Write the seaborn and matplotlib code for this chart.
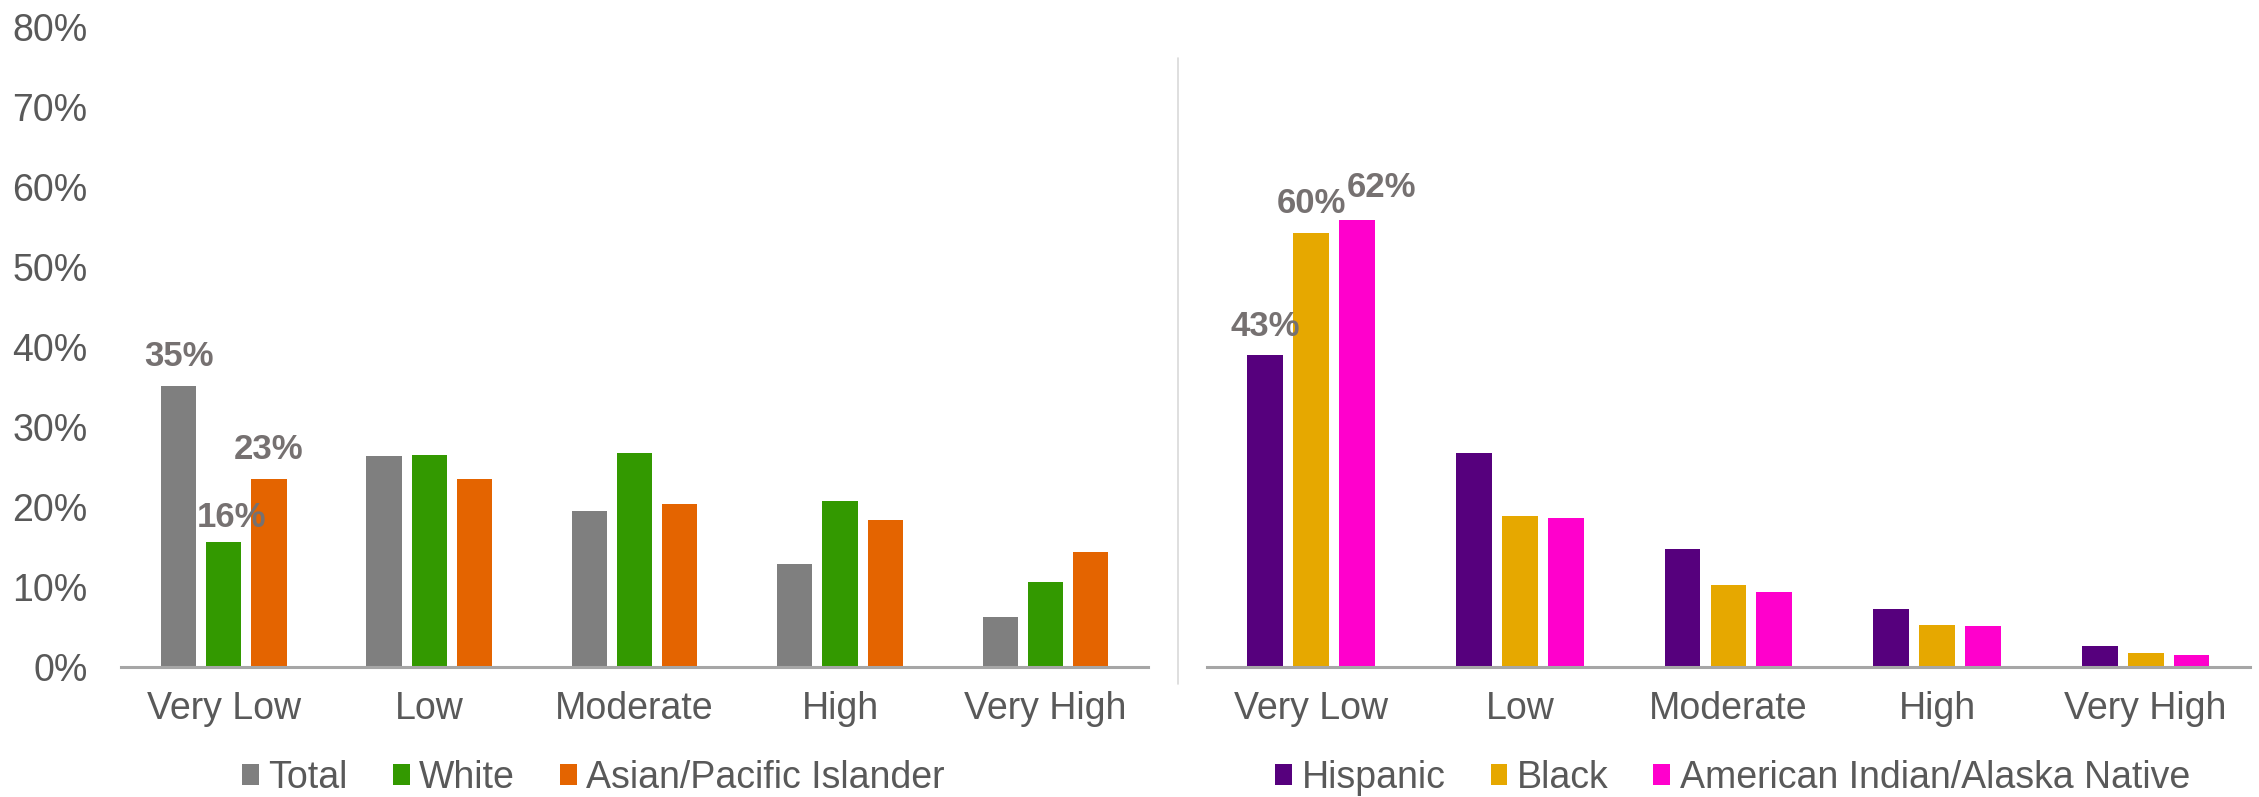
import pandas as pd
import matplotlib.pyplot as plt
import seaborn as sns
from matplotlib.lines import Line2D

sns.set_theme(style='white')
plt.rcParams['font.family'] = ['Liberation Sans', 'DejaVu Sans']

# risk categories shared by both panels
risk_levels = ['Very Low', 'Low', 'Moderate', 'High', 'Very High']

# left panel
total = [0.351, 0.264, 0.195, 0.129, 0.062]
white = [0.156, 0.265, 0.267, 0.207, 0.106]
asian_pi = [0.235, 0.235, 0.204, 0.184, 0.144]

# right panel
hispanic = [0.390, 0.268, 0.147, 0.072, 0.0265]
black = [0.542, 0.189, 0.102, 0.0525, 0.018]
aian = [0.559, 0.186, 0.094, 0.051, 0.0146]

# labels printed above the "Very Low" bars (as shown in the source)
left_labels = {'Total': '35%', 'White': '16%', 'Asian/Pacific Islander': '23%'}
right_labels = {'Hispanic': '43%', 'Black': '60%', 'American Indian/Alaska Native': '62%'}

left_colors = {'Total': '#7F7F7F', 'White': '#339900', 'Asian/Pacific Islander': '#E46400'}
right_colors = {'Hispanic': '#56007D', 'Black': '#E6A800', 'American Indian/Alaska Native': '#FF00CC'}

TICK_COLOR = '#595959'
LABEL_COLOR = '#767171'


def long_table(series):
    rows = []
    for name, values in series.items():
        for level, v in zip(risk_levels, values):
            rows.append({'risk': level, 'group': name, 'value': v})
    return pd.DataFrame(rows)


def draw_panel(ax, df, colors, labels, offsets, legend_x, show_y):
    sns.barplot(data=df, x='risk', y='value', hue='group', order=risk_levels,
                hue_order=list(colors), palette=colors, width=0.66, gap=0.22,
                saturation=1, linewidth=0, errorbar=None, ax=ax)
    ax.set_ylim(0, 0.8)
    ax.set_xlim(-0.5, 4.5)
    ax.set_xlabel('')
    ax.set_ylabel('')
    ax.set_yticks([i / 10 for i in range(9)])
    if show_y:
        ax.set_yticklabels([f'{i * 10}%' for i in range(9)])
    else:
        ax.set_yticklabels([])
    ax.tick_params(axis='y', length=0, pad=24, labelsize=27, labelcolor=TICK_COLOR)
    ax.tick_params(axis='x', length=0, pad=17, labelsize=27, labelcolor=TICK_COLOR)
    for side in ['top', 'right', 'left']:
        ax.spines[side].set_visible(False)
    ax.spines['bottom'].set_color('#A6A6A6')
    ax.spines['bottom'].set_linewidth(2.2)

    for container, name in zip(ax.containers, colors):
        bar = container.patches[0]
        dx, dy = offsets[name]
        ax.annotate(labels[name], (bar.get_x() + bar.get_width() / 2, bar.get_height()),
                    xytext=(dx, dy), textcoords='offset pixels', ha='center',
                    va='baseline', fontsize=25, fontweight='bold', color=LABEL_COLOR)

    sns.move_legend(ax, 'center', bbox_to_anchor=(legend_x, -0.173), ncol=3,
                    frameon=False, title=None, fontsize=27, handlelength=0.45,
                    handleheight=0.52, handletextpad=0.25, columnspacing=1.2,
                    borderaxespad=0, borderpad=0)
    for t in ax.get_legend().get_texts():
        t.set_color(TICK_COLOR)


def main():
    fig = plt.figure(figsize=(22.59, 7.97), dpi=100)
    ax_left = fig.add_axes([0.0536, 0.163, 0.4546, 0.803])
    ax_right = fig.add_axes([0.5343, 0.163, 0.4617, 0.803])

    df_left = long_table({'Total': total, 'White': white, 'Asian/Pacific Islander': asian_pi})
    df_right = long_table({'Hispanic': hispanic, 'Black': black,
                           'American Indian/Alaska Native': aian})

    draw_panel(ax_left, df_left, left_colors, left_labels,
               {'Total': (0, 20), 'White': (8, 15), 'Asian/Pacific Islander': (0, 20)},
               0.46, True)
    draw_panel(ax_right, df_right, right_colors, right_labels,
               {'Hispanic': (0, 19), 'Black': (0, 20), 'American Indian/Alaska Native': (24, 23)},
               0.504, False)

    # thin divider between the two panels
    fig.add_artist(Line2D([0.5215, 0.5215], [0.142, 0.927], color='#D9D9D9', lw=1.2))

    fig.savefig('out.png', dpi=100)


if __name__ == '__main__':
    main()
